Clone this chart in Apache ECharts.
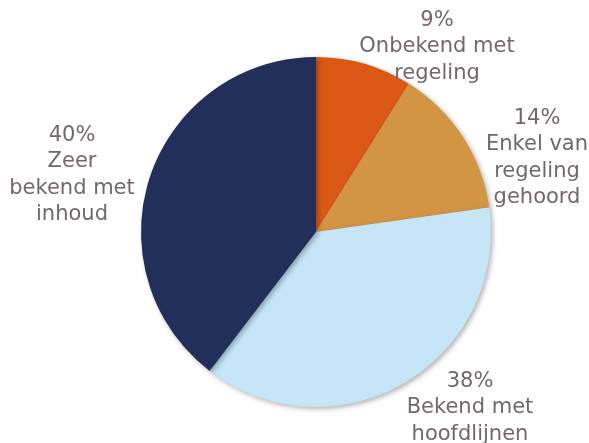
<!DOCTYPE html>
<html><head><meta charset="utf-8">
<script src="https://cdn.jsdelivr.net/npm/echarts@6/dist/echarts.min.js"></script>
<style>html,body{margin:0;padding:0;background:#fff}#c{width:589px;height:443px}</style>
</head><body><div id="c"></div>
<script>
const categories = ['Onbekend met\nregeling', 'Enkel van\nregeling\ngehoord', 'Bekend met\nhoofdlijnen', 'Zeer\nbekend met\ninhoud'];
const values = [9, 14, 38, 40];
const colors = ['#DB5816', '#D19544', '#C6E6F7', '#212F5A'];
const labelCenters = [[437, 47], [537, 158], [470, 408], [72, 175]];

const chart = echarts.init(document.getElementById('c'), null, {renderer: 'canvas'});
chart.setOption({
  animation: false,
  series: [{
    type: 'pie',
    center: [316, 232],
    radius: 175,
    startAngle: 90,
    clockwise: true,
    data: categories.map((n, i) => ({name: n, value: values[i], itemStyle: {color: colors[i]}})),
    itemStyle: {shadowBlur: 5, shadowOffsetX: 2, shadowOffsetY: 2, shadowColor: 'rgba(0,0,0,0.3)'},
    label: {
      show: true, position: 'outside', overflow: 'none', edgeDistance: 0,
      formatter: p => p.value + '%\n' + p.name,
      fontFamily: 'DejaVu Sans', fontSize: 21, lineHeight: 26.5,
      color: '#736769', align: 'center'
    },
    labelLine: {show: false},
    labelLayout: p => ({x: labelCenters[p.dataIndex][0], y: labelCenters[p.dataIndex][1], align: 'center', verticalAlign: 'middle'})
  }]
});
</script></body></html>
